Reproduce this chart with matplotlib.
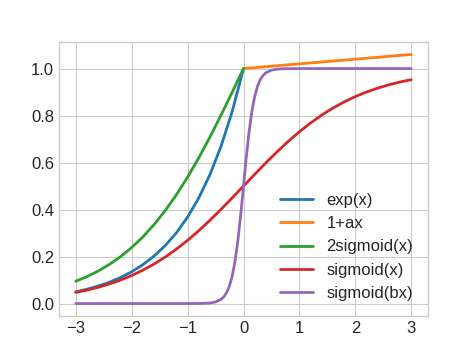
import matplotlib
matplotlib.use("Agg")
import matplotlib.pyplot as plt

# Sample points for each curve
x_neg = [-3.0, -2.8, -2.6, -2.4, -2.2, -2.0, -1.8, -1.6, -1.4, -1.2,
         -1.0, -0.8, -0.6, -0.4, -0.2, 0.0]
exp_vals = [0.0498, 0.0608, 0.0743, 0.0907, 0.1108, 0.1353, 0.1653, 0.2019,
            0.2466, 0.3012, 0.3679, 0.4493, 0.5488, 0.6703, 0.8187, 1.0]
two_sig_vals = [0.0949, 0.1146, 0.1383, 0.1663, 0.1995, 0.2384, 0.2837, 0.3360,
                0.3956, 0.4630, 0.5379, 0.6200, 0.7087, 0.8026, 0.9003, 1.0]

x_lin = [0.0, 3.0]
lin_vals = [1.0, 1.06]

x_full = [-3.0, -2.8, -2.6, -2.4, -2.2, -2.0, -1.8, -1.6, -1.4, -1.2,
          -1.0, -0.8, -0.6, -0.4, -0.2, 0.0, 0.2, 0.4, 0.6, 0.8,
          1.0, 1.2, 1.4, 1.6, 1.8, 2.0, 2.2, 2.4, 2.6, 2.8, 3.0]
sig_vals = [0.0474, 0.0573, 0.0691, 0.0832, 0.0998, 0.1192, 0.1419, 0.1680,
            0.1978, 0.2315, 0.2689, 0.3100, 0.3543, 0.4013, 0.4502, 0.5,
            0.5498, 0.5987, 0.6457, 0.6900, 0.7311, 0.7685, 0.8022, 0.8320,
            0.8581, 0.8808, 0.9002, 0.9168, 0.9309, 0.9427, 0.9526]

x_steep = [-3.0, -1.0, -0.7, -0.6, -0.5, -0.4, -0.35, -0.3, -0.25, -0.2,
           -0.15, -0.1, -0.05, 0.0, 0.05, 0.1, 0.15, 0.2, 0.25, 0.3,
           0.35, 0.4, 0.5, 0.6, 0.7, 1.0, 3.0]
sig_b_vals = [0.0, 0.00005, 0.0009, 0.0025, 0.0067, 0.0180, 0.0293, 0.0474,
              0.0759, 0.1192, 0.1824, 0.2689, 0.3775, 0.5, 0.6225, 0.7311,
              0.8176, 0.8808, 0.9241, 0.9526, 0.9707, 0.9820, 0.9933, 0.9975,
              0.9991, 0.99995, 1.0]

plt.style.use("seaborn-v0_8-whitegrid")
plt.rcParams["font.family"] = ["Liberation Sans", "DejaVu Sans"]
plt.rcParams["font.size"] = 12

fig = plt.figure(figsize=(4.74, 3.43), dpi=100)
ax = fig.add_axes([59 / 474, 1 - 316 / 343, (428 - 59) / 474, (316 - 42) / 343])

ax.plot(x_neg, exp_vals, label="exp(x)", lw=2)
ax.plot(x_lin, lin_vals, label="1+ax", lw=2)
ax.plot(x_neg, two_sig_vals, label="2sigmoid(x)", lw=2)
ax.plot(x_full, sig_vals, label="sigmoid(x)", lw=2)
ax.plot(x_steep, sig_b_vals, label="sigmoid(bx)", lw=2)

ax.set_xticks([-3, -2, -1, 0, 1, 2, 3])
ax.set_yticks([0.0, 0.2, 0.4, 0.6, 0.8, 1.0])
ax.tick_params(labelsize=12)
ax.legend(loc="lower right", fontsize=12)

fig.savefig("out.png", dpi=100)
